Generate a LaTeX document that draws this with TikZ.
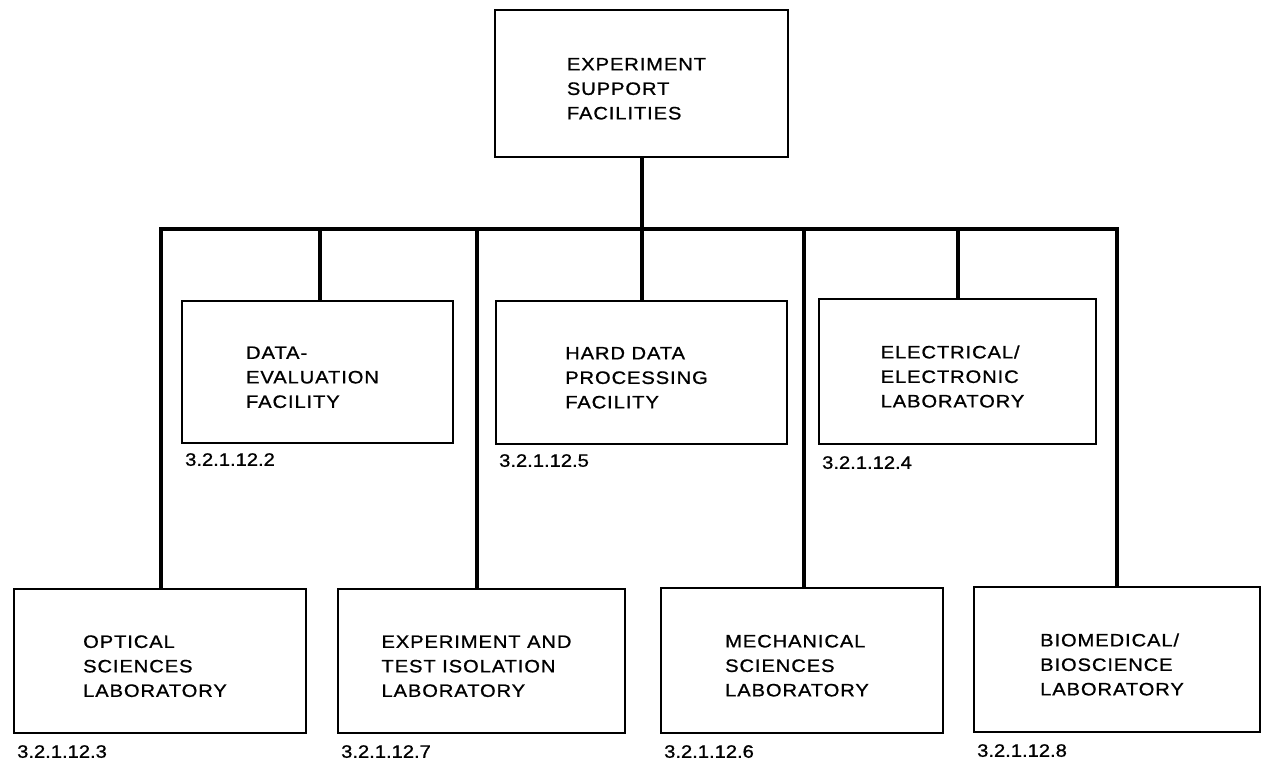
\documentclass[tikz,border=0pt]{standalone}
\usepackage{fontspec}
\setmainfont{Liberation Sans}[FakeStretch=1.12, LetterSpace=5, FakeBold=0.9]
\newfontfamily\codefont{Liberation Sans}[FakeStretch=1.12, FakeBold=0.9]
\usetikzlibrary{calc}
\newcommand{\lineWidth}{4pt}
\newcommand{\boxLine}{2.5pt}
\newcommand{\fontSize}{18}
\newcommand{\lineSkip}{24.5}
\newcommand{\unitText}[1]{\raisebox{-6.5pt}[\height][\depth]{\begin{tabular}{@{}l@{}}#1\end{tabular}}\kern10pt}
\newcommand{\busY}{-229}
\newcommand{\labelShift}{3pt}
\definecolor{lineColor}{RGB}{0,0,0}
\tikzstyle{unit}=[draw=lineColor, line width=\boxLine, inner sep=0, outer sep=0, text=lineColor, font=\fontsize{\fontSize}{\lineSkip}\selectfont]
\tikzstyle{line}=[draw=lineColor, line width=\lineWidth]
\tikzstyle{codeNode}=[draw=none, inner sep=0, anchor=north west, text=lineColor, font=\codefont\fontsize{\fontSize}{\fontSize}\selectfont]

\begin{document}
\begin{tikzpicture}[x=1pt, y=1pt]

% Frame
\useasboundingbox (0,0) rectangle (1262,-762);

% Top box
\node[unit, minimum width=293, minimum height=147] (esf) at (641.5,-83.5) {\unitText{EXPERIMENT\\SUPPORT\\FACILITIES}};

% Middle row
\node[unit, minimum width=271, minimum height=142] (dataEval) at (317.5,-372) {\unitText{DATA-\\EVALUATION\\FACILITY}};
\node[unit, minimum width=291, minimum height=143] (hardData) at (641.5,-372.5) {\unitText{HARD DATA\\PROCESSING\\FACILITY}};
\node[unit, minimum width=277, minimum height=145] (electrical) at (957.5,-371.5) {\unitText{ELECTRICAL/\\ELECTRONIC\\LABORATORY}};

% Bottom row
\node[unit, minimum width=292, minimum height=144] (optical) at (160,-661) {\unitText{OPTICAL\\SCIENCES\\LABORATORY}};
\node[unit, minimum width=287, minimum height=144] (expTest) at (481.5,-661) {\unitText{EXPERIMENT AND\\TEST ISOLATION\\LABORATORY}};
\node[unit, minimum width=282, minimum height=145] (mechanical) at (802,-660.5) {\unitText{MECHANICAL\\SCIENCES\\LABORATORY}};
\node[unit, minimum width=286, minimum height=145] (biomedical) at (1117,-659.5) {\unitText{BIOMEDICAL/\\BIOSCIENCE\\LABORATORY}};

% Code numbers
\foreach \n/\c/\d in {dataEval/2/10, hardData/5/10, electrical/4/12, optical/3/12, expTest/7/12, mechanical/6/12, biomedical/8/12} {
  \node[codeNode] (code\n) at ([xshift=\labelShift, yshift=-\d pt]\n.south west) {3.2.1.12.\c};
  }

% Bus
\coordinate (dOptical) at (161,\busY);
\coordinate (dBiomedical) at (1117,\busY);
\draw[line] (optical.north -| dOptical) -- (dOptical) -- (dBiomedical) -- (biomedical.north -| dBiomedical);
\draw[line] (esf.south) -- (esf.south |- dOptical);

% Drops
\foreach \n/\x in {dataEval/320, expTest/477, hardData/641.5, mechanical/804, electrical/958} {
  \coordinate (d\n) at (\x,\busY);
  \draw[line] (d\n) -- (d\n |- \n.north);
  }

\end{tikzpicture}
\end{document}
